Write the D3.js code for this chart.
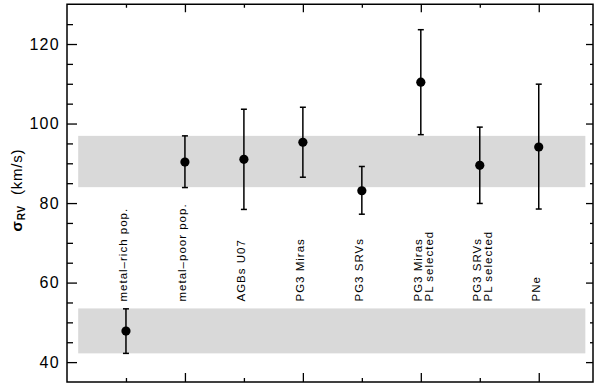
<!DOCTYPE html>
<html lang="en">
<head>
<meta charset="utf-8">
<title>sigma RV by population</title>
<script src="https://d3js.org/d3.v7.min.js"></script>
<style>
  body { margin: 0; background: #fff; }
  text { font-family: "Liberation Sans", Arial, sans-serif; fill: #000; }
</style>
</head>
<body>
<script>
// values
const categories = [
  ["metal\u2013rich pop."],
  ["metal\u2013poor pop."],
  ["AGBs U07"],
  ["PG3 Miras"],
  ["PG3 SRVs"],
  ["PG3 Miras", "PL selected"],
  ["PG3 SRVs", "PL selected"],
  ["PNe"]
];
const sigma   = [47.8, 90.3, 91.0, 95.3, 83.1, 110.4, 89.5, 94.1];
const errLow  = [42.2, 83.9, 78.4, 86.5, 77.2, 97.2, 79.9, 78.5];
const errHigh = [53.4, 96.9, 103.6, 104.1, 89.2, 123.6, 99.1, 109.9];
const bandLow  = [84.0, 42.2];
const bandHigh = [96.9, 53.5];
const yMajor = [40, 60, 80, 100, 120];
const yMinor = [45, 50, 55, 65, 70, 75, 85, 90, 95, 105, 110, 115, 125];

const width = 600, height = 384;
const svg = d3.select("body").append("svg")
  .attr("width", width).attr("height", height);

const x = d3.scaleLinear().domain([0, 8.92]).range([67, 593]);
const y = d3.scaleLinear().domain([35, 130]).range([382, 4.25]);

// grey bands
svg.selectAll("rect.band")
  .data(bandLow)
  .join("rect")
  .attr("class", "band")
  .attr("x", x(0.19))
  .attr("width", x(8.79) - x(0.19))
  .attr("y", (d, i) => y(bandHigh[i]))
  .attr("height", (d, i) => y(d) - y(bandHigh[i]))
  .attr("fill", "#d9d9d9");

// axes, ticks pointing inward like IDL
const left = svg.append("g").attr("transform", `translate(${x(0)},0)`)
  .call(d3.axisLeft(y).tickValues(yMajor).tickSize(-10).tickPadding(7));
svg.append("g").attr("transform", `translate(${x(0)},0)`)
  .call(d3.axisLeft(y).tickValues(yMinor).tickSize(-6).tickFormat(""));
svg.append("g").attr("transform", `translate(${x(8.92)},0)`)
  .call(d3.axisRight(y).tickValues(yMajor).tickSize(-7).tickFormat(""));
svg.append("g").attr("transform", `translate(${x(8.92)},0)`)
  .call(d3.axisRight(y).tickValues(yMinor).tickSize(-3).tickFormat(""));

const idx = categories.map((d, i) => i + 1);
const xMajor = idx.filter(d => d % 2 === 0);
const xMinor = idx.filter(d => d % 2 === 1);
// top edge: ticks hang down
svg.append("g").attr("transform", `translate(0,${y(130)})`)
  .call(d3.axisBottom(x).tickValues(xMajor).tickSize(8).tickFormat(""));
svg.append("g").attr("transform", `translate(0,${y(130)})`)
  .call(d3.axisBottom(x).tickValues(xMinor).tickSize(3.5).tickFormat(""));
// bottom edge: ticks point up
svg.append("g").attr("transform", `translate(0,${y(35)})`)
  .call(d3.axisTop(x).tickValues(xMajor).tickSize(9).tickFormat(""));
svg.append("g").attr("transform", `translate(0,${y(35)})`)
  .call(d3.axisTop(x).tickValues(xMinor).tickSize(4).tickFormat(""));

svg.selectAll(".domain").remove();
svg.selectAll(".tick line").attr("stroke", "#000").attr("stroke-width", 1.3);
left.selectAll(".tick text")
  .style("font-size", "16px").style("letter-spacing", "1.3px")
  .attr("fill", "#000");

// frame
svg.append("rect")
  .attr("x", x(0)).attr("y", y(130))
  .attr("width", x(8.92) - x(0)).attr("height", y(35) - y(130))
  .attr("fill", "none").attr("stroke", "#000").attr("stroke-width", 1.5);

// error bars
const eb = svg.append("g").attr("stroke", "#000").attr("stroke-width", 1.5);
eb.selectAll("line.bar").data(sigma).join("line")
  .attr("x1", (d, i) => x(i + 1)).attr("x2", (d, i) => x(i + 1))
  .attr("y1", (d, i) => y(errLow[i])).attr("y2", (d, i) => y(errHigh[i]));
eb.selectAll("line.capl").data(sigma).join("line")
  .attr("x1", (d, i) => x(i + 1) - 3).attr("x2", (d, i) => x(i + 1) + 3)
  .attr("y1", (d, i) => y(errLow[i])).attr("y2", (d, i) => y(errLow[i]));
eb.selectAll("line.caph").data(sigma).join("line")
  .attr("x1", (d, i) => x(i + 1) - 3).attr("x2", (d, i) => x(i + 1) + 3)
  .attr("y1", (d, i) => y(errHigh[i])).attr("y2", (d, i) => y(errHigh[i]));

svg.selectAll("circle.pt").data(sigma).join("circle")
  .attr("cx", (d, i) => x(i + 1)).attr("cy", d => y(d))
  .attr("r", 4.6).attr("fill", "#000");

// rotated category labels
const lab = svg.selectAll("g.lab").data(categories).join("g")
  .attr("transform", (d, i) => `translate(${x(i + 1) + 1},301.5) rotate(-90)`);
lab.selectAll("text").data(d => d).join("text")
  .attr("x", 0).attr("y", (d, j) => j * 11.5)
  .style("font-size", "11.5px").style("letter-spacing", "1px")
  .text(d => d);

// y-axis title
const yt = svg.append("text")
  .attr("transform", "translate(22,190) rotate(-90)")
  .attr("text-anchor", "middle")
  .style("font-size", "15px").style("letter-spacing", "0.8px");
yt.append("tspan").style("font-weight", "bold").text("\u03c3");
yt.append("tspan").attr("dy", 3).style("font-size", "10px").style("font-weight", "bold").text("RV");
yt.append("tspan").attr("dy", -3).attr("xml:space", "preserve").text("  (km/s)");
</script>
</body>
</html>
